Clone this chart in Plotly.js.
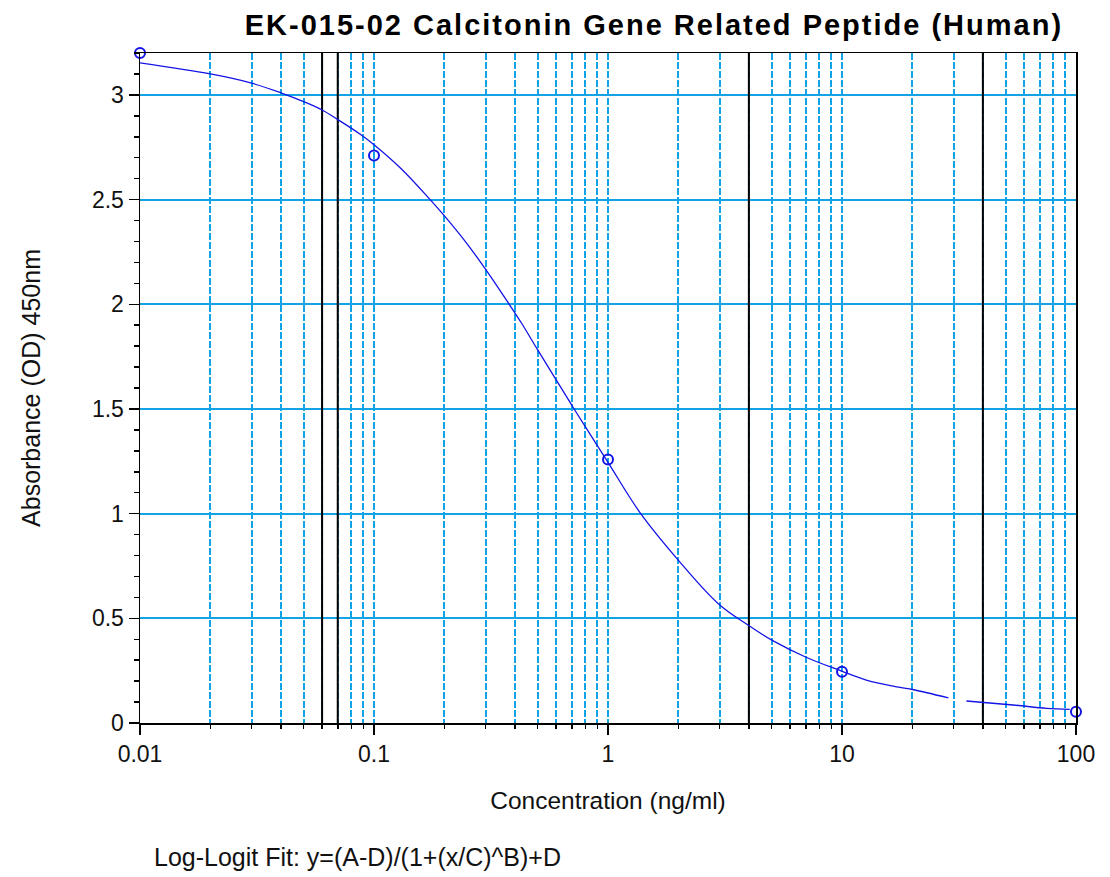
<!DOCTYPE html>
<html>
<head>
<meta charset="utf-8">
<script src="https://cdn.plot.ly/plotly-3.0.1.min.js"></script>
<style>
html,body{margin:0;padding:0;background:#fff;}
#chart{width:1110px;height:877px;}
.gtitle{letter-spacing:2px;}
</style>
</head>
<body>
<div id="chart"></div>
<script>
// Standard points (concentration ng/ml, OD 450nm)
var stdConc = [0.01, 0.1, 1, 10, 100];
var stdOD = [3.2, 2.71, 1.258, 0.245, 0.054];

// Fitted curve (null = gap in the drawn curve)
var fitConc = [0.01, 0.02, 0.03, 0.04, 0.05, 0.06, 0.07, 0.087, 0.1, 0.131, 0.173, 0.2, 0.249, 0.298, 0.387, 0.428, 0.5, 0.666, 0.71, 1, 1.37, 2, 2.96, 3.95, 5.08, 7.06, 9.9, 12.7, 17.7, 20, 28.5, null, 34, 53.8, 75, 94];
var fitOD = [3.153, 3.100, 3.056, 3.010, 2.968, 2.928, 2.882, 2.813, 2.762, 2.646, 2.502, 2.422, 2.291, 2.171, 1.983, 1.908, 1.783, 1.558, 1.507, 1.245, 1.005, 0.777, 0.570, 0.469, 0.392, 0.313, 0.249, 0.205, 0.170, 0.160, 0.120, null, 0.105, 0.086, 0.070, 0.065];

// Black reference lines (concentration)
var refConc = [0.06, 0.07, 4, 40];

var xTickVals = [0.01, 0.1, 1, 10, 100];
var xTickText = ['0.01', '0.1', '1', '10', '100'];
var yTickVals = [0, 0.5, 1, 1.5, 2, 2.5, 3];
var yTickText = ['0', '0.5', '1', '1.5', '2', '2.5', '3'];

var yMin = 0, yMax = 3.2;

var refX = [], refY = [];
refConc.forEach(function (c) { refX.push(c, c, null); refY.push(yMin, yMax, null); });

var gridBlue = '#12a2e6';
var curveBlue = '#1414e6';
var font = 'Liberation Sans, Arial, sans-serif';
var txt = '#111';

var traces = [
  {x: refX, y: refY, mode: 'lines', line: {color: '#000', width: 2}, hoverinfo: 'skip', showlegend: false},
  {x: fitConc, y: fitOD, mode: 'lines', line: {color: curveBlue, width: 1.3, shape: 'spline', smoothing: 1}, connectgaps: false, showlegend: false},
  {x: stdConc, y: stdOD, mode: 'markers', marker: {symbol: 'circle-open', size: 10, color: curveBlue, line: {width: 2, color: curveBlue}}, cliponaxis: false, showlegend: false}
];

var layout = {
  width: 1110, height: 877,
  paper_bgcolor: '#fff', plot_bgcolor: '#fff',
  margin: {l: 140, r: 34, t: 53, b: 154},
  font: {family: font, size: 24, color: txt},
  title: {text: 'EK-015-02 Calcitonin Gene Related Peptide (Human)', font: {family: font, size: 29, color: '#000', weight: 'bold'}, xref: 'container', x: 0.9577, xanchor: 'right', yref: 'container', y: 0.9715, yanchor: 'middle'},
  xaxis: {
    type: 'log', range: [-2, 2],
    tickvals: xTickVals, ticktext: xTickText,
    ticks: 'outside', ticklen: 10, tickcolor: '#000', tickwidth: 1.5,
    showline: true, mirror: true, linecolor: '#000', linewidth: 1.5,
    showgrid: true, gridcolor: gridBlue, gridwidth: 2, griddash: '7px,2px',
    minor: {dtick: 'D1', ticks: 'outside', ticklen: 4, tickcolor: '#000', tickwidth: 1.5, showgrid: true, gridcolor: gridBlue, gridwidth: 2, griddash: '7px,2px'},
    zeroline: false,
    tickfont: {family: font, size: 23, color: txt},
    title: {text: 'Concentration (ng/ml)', font: {family: font, size: 24.5, color: txt}, standoff: 26}
  },
  yaxis: {
    range: [yMin, yMax],
    tickvals: yTickVals, ticktext: yTickText,
    ticks: 'outside', ticklen: 10, tickcolor: '#000', tickwidth: 1.5,
    showline: true, mirror: true, linecolor: '#000', linewidth: 1.5,
    showgrid: true, gridcolor: gridBlue, gridwidth: 2,
    minor: {dtick: 0.1, ticks: 'outside', ticklen: 5, tickcolor: '#000', tickwidth: 1.5, showgrid: false},
    zeroline: false,
    tickfont: {family: font, size: 23, color: txt},
    title: {text: 'Absorbance (OD) 450nm', font: {family: font, size: 25, color: txt}, standoff: 44}
  },
  annotations: [
    {text: 'Log-Logit Fit: y=(A-D)/(1+(x/C)^B)+D', xref: 'paper', yref: 'paper', x: 0.0128, y: -0.2, xanchor: 'left', yanchor: 'middle', showarrow: false, font: {family: font, size: 25, color: txt}}
  ]
};

Plotly.newPlot('chart', traces, layout, {displayModeBar: false, staticPlot: true});
</script>
</body>
</html>
